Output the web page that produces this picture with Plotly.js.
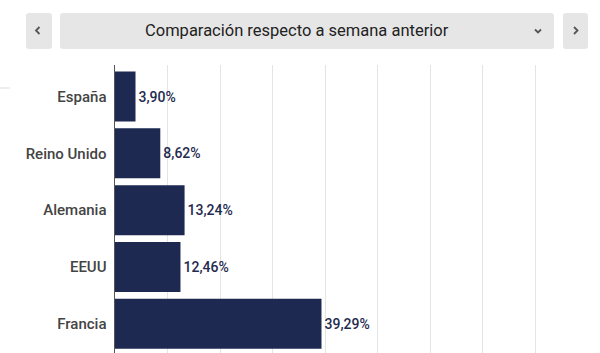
<!DOCTYPE html>
<html>
<head>
<meta charset="utf-8">
<script src="https://cdn.plot.ly/plotly-3.0.1.min.js"></script>
<style>
  html, body { margin: 0; padding: 0; background: #fff; }
  #chart { width: 600px; height: 353px; }
</style>
</head>
<body>
<div id="chart"></div>
<script>
// ---- data ----
const categories = ["España", "Reino Unido", "Alemania", "EEUU", "Francia"];
const values = [3.90, 8.62, 13.24, 12.46, 39.29];
const valueLabels = ["3,90%", "8,62%", "13,24%", "12,46%", "39,29%"];
const headerTitle = "Comparación respecto a semana anterior";
const xTicks = [0, 10, 20, 30, 40, 50, 60, 70, 80, 90];

// ---- layout geometry (pixels) ----
const W = 600, H = 353;
const M = { l: 115, r: 12, t: 65, b: 0 };
const PW = W - M.l - M.r, PH = H - M.t - M.b;
const px = x => (x - M.l) / PW;
const py = y => (H - M.b - y) / PH;

function roundRect(x0, y0, x1, y1, r) {
  const p = (x, y) => px(x) + ',' + py(y);
  return 'M' + p(x0 + r, y0) + ' L' + p(x1 - r, y0) +
    ' Q' + p(x1, y0) + ' ' + p(x1, y0 + r) +
    ' L' + p(x1, y1 - r) + ' Q' + p(x1, y1) + ' ' + p(x1 - r, y1) +
    ' L' + p(x0 + r, y1) + ' Q' + p(x0, y1) + ' ' + p(x0, y1 - r) +
    ' L' + p(x0, y0 + r) + ' Q' + p(x0, y0) + ' ' + p(x0 + r, y0) + ' Z';
}
function polyline(pts) {
  return pts.map((q, i) => (i ? 'L' : 'M') + px(q[0]) + ',' + py(q[1])).join(' ');
}

const boxStyle = { type: 'path', xref: 'paper', yref: 'paper', fillcolor: '#e6e6e6', line: { width: 0 }, layer: 'above' };
const chevStyle = { type: 'path', xref: 'paper', yref: 'paper', line: { color: '#555', width: 1.8 }, layer: 'above' };

const shapes = [
  Object.assign({ path: roundRect(26, 13, 52, 49, 3) }, boxStyle),
  Object.assign({ path: roundRect(60, 13, 554, 49, 3) }, boxStyle),
  Object.assign({ path: roundRect(563, 13, 588, 49, 3) }, boxStyle),
  Object.assign({ path: polyline([[39.5, 27], [36, 30.5], [39.5, 34]]) }, chevStyle),
  Object.assign({ path: polyline([[574, 27], [577.5, 30.5], [574, 34]]) }, chevStyle),
  Object.assign({ path: polyline([[535, 29.5], [538, 32.5], [541, 29.5]]) }, chevStyle),
  { type: 'line', xref: 'paper', yref: 'paper', x0: px(0), x1: px(10), y0: py(88), y1: py(88),
    line: { color: '#dddddd', width: 1 } }
];

const trace = {
  type: 'bar',
  orientation: 'h',
  y: categories,
  x: values,
  text: valueLabels,
  textposition: 'outside',
  cliponaxis: false,
  textfont: { family: 'Roboto, sans-serif', size: 14, color: '#1f2a4f', weight: 500 },
  marker: { color: '#1e2952', line: { width: 0 } },
  hoverinfo: 'none'
};

const layout = {
  width: W, height: H,
  margin: M,
  paper_bgcolor: '#ffffff',
  plot_bgcolor: '#ffffff',
  bargap: 0.12,
  showlegend: false,
  font: { family: 'Roboto, sans-serif' },
  xaxis: {
    range: [0, 90],
    tickvals: xTicks,
    showticklabels: false,
    showgrid: true,
    gridcolor: '#e4e4e4',
    gridwidth: 1,
    zeroline: false,
    fixedrange: true
  },
  yaxis: {
    type: 'category',
    range: [4.515, -0.555],
    showline: true,
    linecolor: '#555555',
    linewidth: 1.5,
    ticks: 'outside',
    ticklen: 4,
    tickcolor: 'rgba(0,0,0,0)',
    tickfont: { family: 'Roboto, sans-serif', size: 15, color: '#444444', weight: 500 },
    showgrid: false,
    zeroline: false,
    fixedrange: true
  },
  shapes: shapes,
  annotations: [{
    xref: 'paper', yref: 'paper',
    x: px(296.5), y: py(31),
    xanchor: 'center', yanchor: 'middle',
    text: headerTitle,
    showarrow: false,
    font: { family: 'Roboto, sans-serif', size: 16.5, color: '#222222' }
  }]
};

Plotly.newPlot('chart', [trace], layout, { displayModeBar: false, staticPlot: true });
</script>
</body>
</html>
